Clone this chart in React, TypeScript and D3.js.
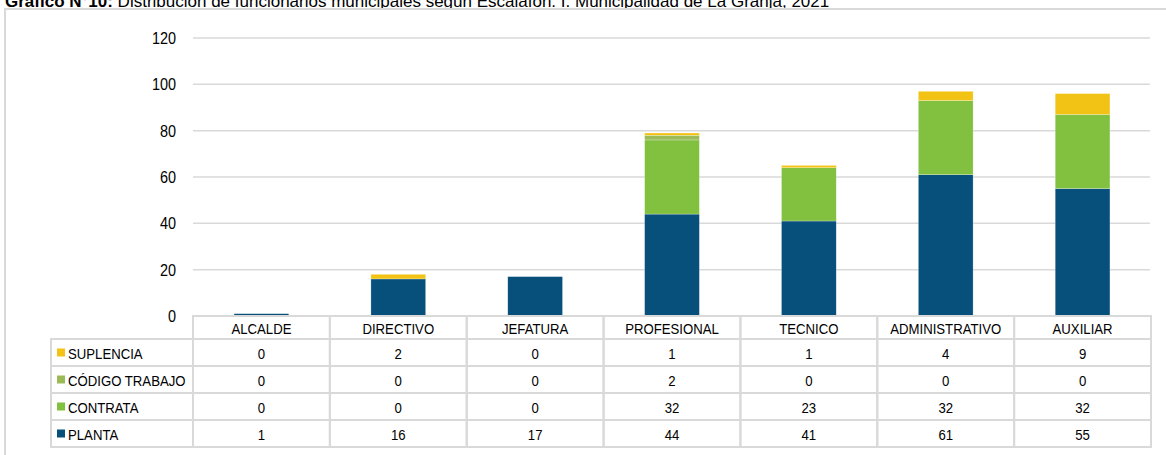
import React, { useEffect, useRef } from 'react';
import * as d3 from 'd3';

const categories = ['ALCALDE', 'DIRECTIVO', 'JEFATURA', 'PROFESIONAL', 'TECNICO', 'ADMINISTRATIVO', 'AUXILIAR'];
const seriesNames = ['PLANTA', 'CONTRATA', 'CÓDIGO TRABAJO', 'SUPLENCIA'];
const planta = [1, 16, 17, 44, 41, 61, 55];
const contrata = [0, 0, 0, 32, 23, 32, 32];
const codigoTrabajo = [0, 0, 0, 2, 0, 0, 0];
const suplencia = [0, 2, 0, 1, 1, 4, 9];
const yTicks = [0, 20, 40, 60, 80, 100, 120];
const colors = ['#07507c', '#82c040', '#9bbb59', '#f2c314'];

const W = 1166;
const H = 455;
const FONT = '"Liberation Sans", Arial, sans-serif';
// no narrow font installed: squeeze the glyphs horizontally instead
const NARROW = 0.85;

const App = () => {
  const ref = useRef(null);

  useEffect(() => {
    const svg = d3.select(ref.current);
    svg.selectAll('*').remove();

    const values = [planta, contrata, codigoTrabajo, suplencia];
    const rows = categories.map((c, i) => {
      const r: any = { cat: c };
      seriesNames.forEach((s, j) => (r[s] = values[j][i]));
      return r;
    });
    const stacked = d3.stack().keys(seriesNames)(rows);

    const left = 193, right = 1151, top = 38, base = 316;
    const x = d3.scaleBand().domain(categories).range([left, right]).paddingInner(0.6).paddingOuter(0.3);
    const col = d3.scaleBand().domain(categories).range([left, right]).padding(0);
    const y = d3.scaleLinear().domain([0, 120]).range([base, top]);

    const label = (parent, tx, ty, txt, size, anchor = 'start') =>
      parent.append('text')
        .attr('transform', `translate(${tx},${ty}) scale(${NARROW},1)`)
        .attr('dy', '0.35em')
        .attr('text-anchor', anchor)
        .attr('font-size', size)
        .attr('fill', '#000')
        .text(txt);

    // title (clipped at the top, as in the source)
    const title = svg.append('text').attr('x', 5).attr('y', 7).attr('font-size', 17).attr('fill', '#000');
    title.append('tspan').attr('font-weight', 'bold').text('Gráfico N°10:');
    title.append('tspan').text(' Distribución de funcionarios municipales según Escalafón. I. Municipalidad de La Granja, 2021');

    // outer frame
    svg.append('rect')
      .attr('x', 5).attr('y', 9).attr('width', W).attr('height', H)
      .attr('fill', 'none').attr('stroke', '#d9d9d9').attr('stroke-width', 2);

    // gridlines + y labels
    const g = svg.append('g');
    g.selectAll('line.grid').data(yTicks.filter((t) => t > 0)).enter().append('line')
      .attr('x1', left).attr('x2', right - 1)
      .attr('y1', (d) => y(d)).attr('y2', (d) => y(d))
      .attr('stroke', '#d9d9d9').attr('stroke-width', 1.5);
    yTicks.forEach((t) => label(g, 176, y(t), t, 17, 'end'));

    // bars
    g.selectAll('g.series').data(stacked).enter().append('g')
      .attr('fill', (d, i) => colors[i])
      .selectAll('rect').data((d) => d).enter().append('rect')
      .attr('x', (d: any) => x(d.data.cat))
      .attr('width', x.bandwidth())
      .attr('y', (d) => y(d[1]))
      .attr('height', (d) => y(d[0]) - y(d[1]))
      .attr('stroke', '#ffffff').attr('stroke-opacity', 0.5).attr('stroke-width', 0.5);

    // data table
    const legLeft = 51;
    const headH = 23;
    const rowH = 27;
    const tableRows = [...seriesNames].reverse();
    const lineColor = '#d9d9d9';
    const t = svg.append('g');
    const rowTop = base + headH;
    const cell = (cx, cy, w, h) =>
      t.append('rect').attr('x', cx).attr('y', cy).attr('width', w).attr('height', h)
        .attr('fill', 'none').attr('stroke', lineColor).attr('stroke-width', 2);

    categories.forEach((c) => {
      cell(col(c), base, col.bandwidth(), headH);
      label(t, col(c)! + col.bandwidth() / 2, base + headH / 2 + 1, c, 15.5, 'middle');
    });

    tableRows.forEach((s, ri) => {
      const ry = rowTop + ri * rowH;
      const si = seriesNames.indexOf(s);
      cell(legLeft, ry, left - legLeft, rowH);
      t.append('rect').attr('x', 57).attr('y', ry + rowH / 2 - 4).attr('width', 8).attr('height', 8).attr('fill', colors[si]);
      label(t, 68, ry + rowH / 2 + 1, s, 15.5);
      categories.forEach((c, ci) => {
        cell(col(c), ry, col.bandwidth(), rowH);
        label(t, col(c)! + col.bandwidth() / 2, ry + rowH / 2 + 1, values[si][ci], 15.5, 'middle');
      });
    });
  }, []);

  return (
    <svg
      ref={ref}
      width={W}
      height={H}
      style={{ position: 'absolute', left: 0, top: 0, fontFamily: FONT, background: '#fff' }}
    />
  );
};

export default App;
